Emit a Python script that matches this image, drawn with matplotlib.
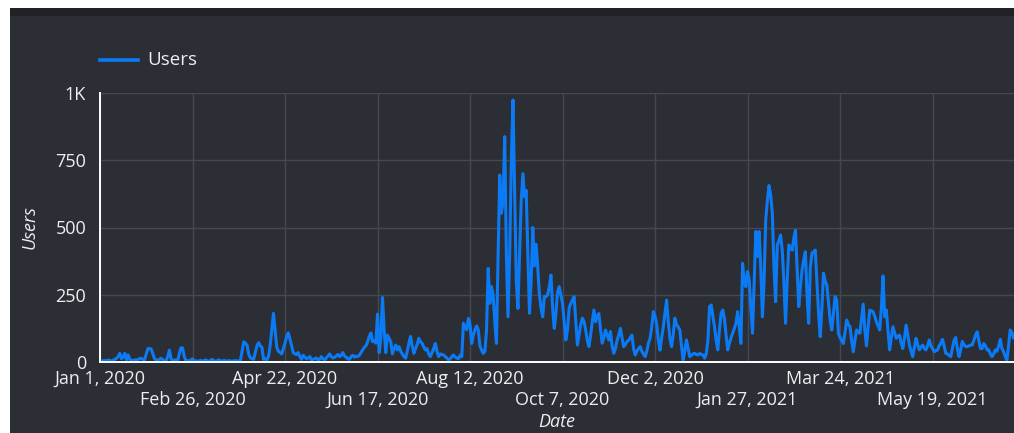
import numpy as np
import pandas as pd
import matplotlib
matplotlib.use("Agg")
import matplotlib.pyplot as plt
from matplotlib.patches import Rectangle
from matplotlib.lines import Line2D

plt.rcParams['font.family'] = ['Open Sans', 'DejaVu Sans']

# daily users (Jan 1, 2020 onwards)
users = [
    3, 5, 4, 6, 3, 8, 5, 4, 6, 10,
    14, 20, 32, 12, 18, 32, 8, 26, 10, 6,
    5, 8, 7, 10, 12, 14, 9, 8, 30, 50,
    50, 48, 30, 12, 8, 6, 10, 14, 8, 5,
    4, 20, 44, 12, 5, 6, 8, 4, 30, 53,
    52, 20, 6, 5, 4, 8, 12, 5, 4, 3,
    4, 6, 3, 5, 8, 4, 3, 6, 10, 4,
    3, 5, 8, 4, 3, 6, 4, 3, 5, 4,
    3, 4, 5, 4, 3, 5, 40, 75, 70, 63,
    30, 15, 12, 10, 35, 60, 72, 60, 55, 10,
    12, 8, 20, 60, 120, 181, 120, 55, 40, 35,
    30, 50, 70, 95, 108, 85, 60, 35, 30, 28,
    35, 20, 10, 25, 18, 12, 15, 20, 8, 10,
    12, 15, 8, 10, 20, 12, 8, 15, 22, 30,
    20, 15, 18, 22, 28, 20, 25, 35, 22, 18,
    12, 10, 20, 25, 18, 22, 20, 25, 35, 45,
    55, 60, 75, 95, 108, 75, 80, 70, 178, 35,
    90, 240, 120, 35, 100, 88, 75, 30, 50, 63,
    45, 57, 40, 30, 20, 14, 40, 70, 95, 60,
    32, 50, 65, 88, 75, 70, 55, 45, 50, 30,
    20, 35, 50, 69, 40, 20, 30, 28, 26, 20,
    15, 7, 12, 20, 26, 18, 15, 12, 25, 20,
    144, 130, 120, 162, 140, 69, 100, 120, 134, 119,
    60, 45, 32, 40, 120, 348, 218, 280, 250, 150,
    69, 400, 695, 553, 600, 838, 400, 168, 400, 750,
    974, 639, 300, 199, 400, 600, 700, 614, 638, 400,
    181, 300, 500, 357, 438, 350, 250, 200, 168, 243,
    243, 250, 280, 323, 200, 125, 180, 260, 280, 250,
    218, 150, 82, 120, 200, 218, 230, 243, 150, 63,
    100, 140, 163, 150, 120, 80, 57, 100, 150, 193,
    150, 170, 180, 120, 70, 90, 119, 100, 82, 113,
    60, 32, 50, 80, 100, 125, 90, 57, 65, 76,
    80, 90, 100, 50, 26, 40, 50, 57, 40, 30,
    20, 40, 70, 88, 130, 187, 170, 140, 80, 44,
    90, 131, 180, 230, 150, 90, 57, 100, 163, 140,
    130, 119, 60, 7, 40, 82, 50, 20, 25, 30,
    32, 28, 26, 32, 28, 26, 14, 30, 80, 206,
    212, 170, 132, 80, 45, 120, 181, 193, 162, 100,
    45, 70, 90, 107, 125, 144, 187, 130, 69, 367,
    300, 280, 336, 305, 200, 107, 300, 485, 392, 485,
    350, 168, 300, 528, 600, 656, 620, 552, 350, 224,
    435, 450, 472, 416, 300, 144, 300, 435, 425, 416,
    460, 490, 350, 206, 280, 342, 380, 410, 250, 144,
    350, 404, 410, 416, 300, 180, 94, 200, 330, 300,
    286, 220, 156, 119, 180, 243, 230, 107, 90, 80,
    69, 110, 156, 140, 132, 80, 38, 80, 119, 110,
    107, 160, 215, 120, 60, 130, 193, 190, 187, 170,
    150, 135, 119, 200, 320, 168, 193, 120, 45, 90,
    131, 110, 88, 95, 100, 70, 50, 90, 137, 100,
    63, 40, 20, 55, 88, 65, 45, 55, 63, 50,
    45, 60, 82, 60, 50, 38, 42, 45, 60, 70,
    84, 60, 32, 30, 25, 20, 50, 80, 91, 50,
    20, 45, 76, 65, 57, 57, 60, 63, 63, 80,
    100, 112, 80, 50, 50, 69, 60, 45, 45, 30,
    20, 30, 45, 40, 60, 84, 50, 38, 20, 7,
    60, 119, 110, 90,
]
dates = pd.date_range("2020-01-01", periods=len(users), freq="D")

row1_ticks = ["2020-01-01", "2020-04-22", "2020-08-12", "2020-12-02", "2021-03-24"]
row2_ticks = ["2020-02-26", "2020-06-17", "2020-10-07", "2021-01-27", "2021-05-19"]
y_ticks = [0, 250, 500, 750, 1000]
y_labels = ["0", "250", "500", "750", "1K"]

bg = "#2b2e35"
txt = "#eceef0"
blue = "#0b7bf5"
grid = "#45484e"
fs = 13

fig = plt.figure(figsize=(10.14, 4.33), dpi=100, facecolor=bg)
# white page edge and dark header strip
fig.patches.append(Rectangle((0, 1 - 8 / 433), 1, 8 / 433, transform=fig.transFigure,
                             facecolor="white", edgecolor="none", zorder=0))
fig.patches.append(Rectangle((0, 0), 10 / 1014, 1, transform=fig.transFigure,
                             facecolor="white", edgecolor="none", zorder=0))
fig.patches.append(Rectangle((10 / 1014, 1 - 16 / 433), 1, 8 / 433, transform=fig.transFigure,
                             facecolor="#202226", edgecolor="none", zorder=0))

ax = fig.add_axes([100 / 1014, 1 - 362 / 433, 914 / 1014, 269 / 433])
ax.set_facecolor(bg)
ax.plot(dates, users, color=blue, lw=2.2, zorder=3)

ax.set_ylim(0, 1000)
ax.set_xlim(pd.Timestamp("2020-01-01"), pd.Timestamp("2020-01-01") + pd.Timedelta(days=553.3))

ax.set_yticks(y_ticks)
ax.set_yticklabels(y_labels)
ax.set_xticks(pd.to_datetime(row1_ticks))
ax.set_xticklabels([d.strftime("%b %-d, %Y") for d in pd.to_datetime(row1_ticks)])
ax.set_xticks(pd.to_datetime(row2_ticks), minor=True)
ax.set_xticklabels([d.strftime("%b %-d, %Y") for d in pd.to_datetime(row2_ticks)], minor=True)

ax.tick_params(axis="x", which="major", length=0, pad=5.5, labelsize=fs, colors=txt)
ax.tick_params(axis="x", which="minor", length=0, pad=21, labelsize=fs, colors=txt)
ax.tick_params(axis="y", length=0, pad=10, labelsize=fs, colors=txt)

ax.grid(True, which="both", color=grid, lw=1.0)
ax.set_axisbelow(True)
for s in ["top", "right"]:
    ax.spines[s].set_visible(False)
for s in ["left", "bottom"]:
    ax.spines[s].set_color("white")
    ax.spines[s].set_linewidth(1.4)
    ax.spines[s].set_zorder(4)

ax.set_xlabel("Date", fontsize=fs, style="italic", color=txt, labelpad=3)
ax.set_ylabel("Users", fontsize=fs, style="italic", color=txt, labelpad=12)

# legend
fig.add_artist(Line2D([100 / 1014, 138 / 1014], [1 - 60 / 433, 1 - 60 / 433],
                      transform=fig.transFigure, color=blue, lw=2.6))
fig.text(147 / 1014, 1 - 60 / 433, "Users", color=txt, fontsize=13.5, va="center", ha="left")

fig.savefig("out.png", dpi=100, facecolor=bg)
